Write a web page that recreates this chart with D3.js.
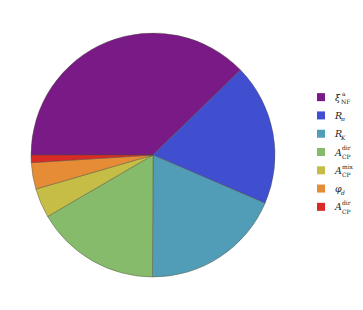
<!DOCTYPE html>
<html>
<head>
<meta charset="utf-8">
<script src="https://cdn.jsdelivr.net/npm/d3@7"></script>
<style>
  body { margin: 0; background: #fff; }
  .lab { font-family: "DejaVu Serif", "Liberation Serif", serif; fill: #222; }
</style>
</head>
<body>
<svg id="chart"></svg>
<script>
// Width and height for the SVG
var width = 363, height = 310;

// slice data (percent)
var names = ["xi", "Rpi", "RK", "Adir", "Amix", "phid", "Adir2"];
var values = [37.7, 18.7, 18.6, 16.5, 3.9, 3.5, 1.0];
var colors = ["#7a1a86", "#3f4fd0", "#519cb6", "#86bb6c", "#c5bd45", "#e68c36", "#d92a26"];
// legend label parts: main symbol, superscript, subscript
var mains = ["\u03BE", "R", "R", "A", "A", "\u03C6", "A"];
var sups = ["a", "", "", "dir", "mix", "", "dir"];
var subs = ["NF", "\u03C0", "K", "CP", "CP", "d", "CP"];

var svg = d3.select("#chart")
  .attr("width", width)
  .attr("height", height);

var cx = 153, cy = 155, radius = 122;

var pie = d3.pie()
  .sort(null)
  .startAngle(-Math.PI / 2)
  .endAngle(3 * Math.PI / 2);

var arc = d3.arc().innerRadius(0).outerRadius(radius);

var g = svg.append("g").attr("transform", "translate(" + cx + "," + cy + ")");

g.selectAll("path")
  .data(pie(values))
  .enter().append("path")
  .attr("d", arc)
  .attr("fill", function(d, i) { return colors[i]; })
  .attr("stroke", "#4a4a3a")
  .attr("stroke-opacity", 0.6)
  .attr("stroke-width", 0.7)
  .attr("stroke-linejoin", "round");

// legend
var y = d3.scaleBand().domain(names).range([88, 216]);

var leg = svg.append("g")
  .selectAll("g")
  .data(names)
  .enter().append("g")
  .attr("transform", function(d) { return "translate(317," + (y(d) + y.bandwidth() / 2) + ")"; });

leg.append("rect")
  .attr("x", 0).attr("y", -4)
  .attr("width", 8).attr("height", 8)
  .attr("fill", function(d, i) { return colors[i]; });

// main symbol
leg.append("text")
  .attr("class", "lab")
  .attr("x", 18)
  .attr("y", 3.5)
  .attr("font-size", "9.5px")
  .attr("font-style", "italic")
  .text(function(d, i) { return mains[i]; });

// superscript (only where present)
leg.filter(function(d, i) { return sups[i] !== ""; })
  .append("text")
  .attr("class", "lab")
  .attr("x", 25)
  .attr("y", -1.6)
  .attr("font-size", "6px")
  .text(function(d) { return sups[names.indexOf(d)]; });

// subscript
leg.append("text")
  .attr("class", "lab")
  .attr("x", function(d, i) { return mains[i] === "A" ? 25 : 24; })
  .attr("y", function(d, i) { return sups[i] !== "" ? 7 : 6; })
  .attr("font-size", "6px")
  .attr("font-style", function(d, i) { return (subs[i] === "\u03C0" || subs[i] === "K" || subs[i] === "d") ? "italic" : "normal"; })
  .text(function(d, i) { return subs[i]; });
</script>
</body>
</html>
